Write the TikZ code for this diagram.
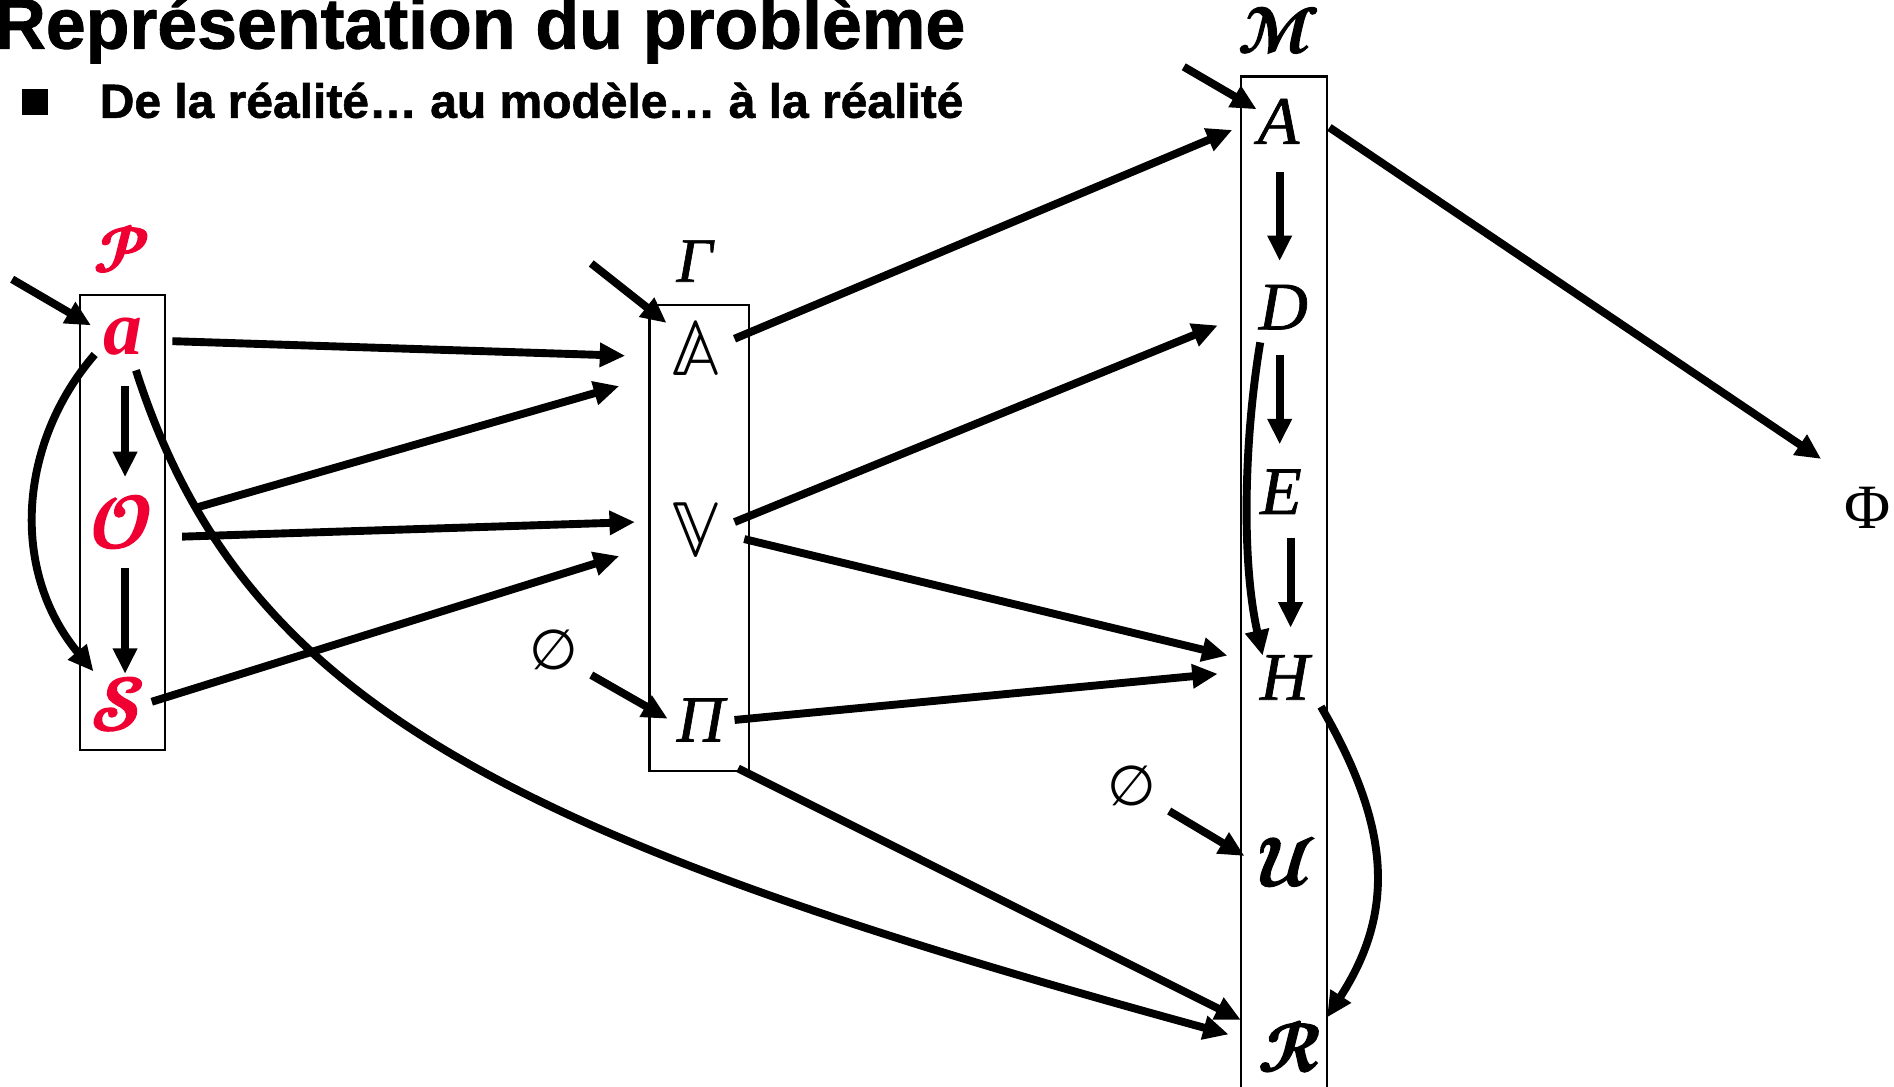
\documentclass[tikz,border=0pt]{standalone}
\usepackage{fontspec}
\usepackage{unicode-math}
\setmathfont{Latin Modern Math}
\newfontfamily\arialfont{Liberation Sans}[BoldFeatures={FakeBold=1.2}]
\newfontfamily\timesfont{Liberation Serif}
\newfontfamily\timesheavy{Liberation Serif}[ItalicFeatures={FakeBold=1}]
\newfontfamily\dvsans{DejaVu Sans}
\newfontfamily\scrfont{Latin Modern Math}[FakeBold=2.5]
\usetikzlibrary{arrows.meta,calc}
\definecolor{pred}{RGB}{240,0,50}
\tikzset{
  conn/.style={line width=6.5pt,-{Triangle[length=21pt,width=19pt]}},
  box/.style={draw,line width=1.8pt,inner sep=0pt},
  lett/.style={inner sep=0pt,font=\fontsize{#1}{#1}\selectfont},
  lett/.default=52,
  redlett/.style={lett=#1,text=pred},
  redlett/.default=60,
}
\begin{document}
\begin{tikzpicture}[x=1pt,y=-1pt]
\useasboundingbox (0,0) rectangle (1560,895);
% titles
\node[anchor=base west,inner sep=0pt,font=\arialfont\bfseries\fontsize{59}{60}\selectfont] (title) at (-5,40) {Représentation du problème};
\node[fill=black,minimum size=21pt,inner sep=0pt] (bullet) at (29,84) {};
\node[anchor=base west,inner sep=0pt,font=\arialfont\bfseries\fontsize{39.5}{40}\selectfont] (sub) at (82,97) {De la réalité… au modèle… à la réalité};
% boxes
\node[box,minimum width=70pt,minimum height=375pt] (Pbox) at (101,430.5) {};
\node[box,minimum width=82pt,minimum height=384pt] (Gbox) at (576,443) {};
\node[box,minimum width=71pt,minimum height=857pt] (Mbox) at (1057.5,491.5) {};
% P column
\node[redlett=52] (Plab) at (100,205) {\scrfont\symbol{"1D4DF}};
\node[redlett=64] (a) at (101,277) {\timesfont\bfseries\itshape a};
\node[redlett] (O) at (100,430) {\scrfont\symbol{"1D4DE}};
\node[redlett] (S) at (97,580) {\scrfont\symbol{"1D4E2}};
% Gamma column
\node[lett=52] (Glab) at (572,215) {\timesheavy\itshape Γ};
\node[lett=66] (bbA) at (573,287) {$\mathbb{A}$};
\node[lett=66] (V) at (573,437) {$\mathbb{V}$};
\node[lett=54] (Pi) at (577,593) {\timesheavy\itshape Π};
\node[lett=46] (e1) at (456,535) {\dvsans ∅};
% M column
\node[lett=52] (Mlab) at (1053,25) {\scrfont\symbol{"1D4DC}};
\node[lett=56] (mA) at (1053,100) {\timesheavy\itshape A};
\node[lett=56] (D) at (1057,253) {\timesheavy\itshape D};
\node[lett=56] (E) at (1055,405) {\timesheavy\itshape E};
\node[lett=56] (H) at (1058,558) {\timesheavy\itshape H};
\node[lett=56] (U) at (1060,710) {\scrfont\symbol{"1D4E4}};
\node[lett=56] (R) at (1062,862) {\scrfont\symbol{"1D4E1}};
\node[lett=46] (e2) at (932,647) {\dvsans ∅};
\node[lett=52] (Phi) at (1538,418) {\timesfont Φ};
% free ends
\coordinate (inP) at (10,230);
\coordinate (inG) at (487,217);
\coordinate (inM) at (975,55);
% P connectors
\draw[conn] (inP) -- ($(a)+(-26,-9)$);
\draw[conn] ($(a)+(2,41)$) -- ($(O)+(3,-37)$);
\draw[conn] ($(O)+(3,38)$) -- ($(S)+(6,-25)$);
\draw[conn] ($(a)+(-23,15)$) .. controls ($(a)+(-86,88)$) and ($(S)+(-89,-110)$) .. ($(S)+(-20,-27)$);
\draw[conn] ($(a)+(11,28)$) .. controls ($(a)+(99,303)$) and ($(R)+(-642,-172)$) .. ($(R)+(-50,-10)$);
\draw[conn] ($(a)+(41,4)$) -- ($(bbA)+(-58,6)$);
\draw[conn] ($(O)+(62,-12)$) -- ($(bbA)+(-63,31)$);
\draw[conn] ($(O)+(50,12)$) -- ($(V)+(-50,-7)$);
\draw[conn] ($(S)+(28,-2)$) -- ($(V)+(-63,21)$);
% Gamma connectors
\draw[conn] (inG) -- ($(bbA)+(-24,-21)$);
\draw[conn] ($(e1)+(31,21)$) -- ($(Pi)+(-27,-1)$);
\draw[conn] ($(bbA)+(32,-8)$) -- ($(mA)+(-38,7)$);
\draw[conn] ($(V)+(32,-7)$) -- ($(D)+(-54,15)$);
\draw[conn] ($(V)+(40,7)$) -- ($(H)+(-47,-18)$);
\draw[conn] ($(Pi)+(28,0)$) -- ($(H)+(-55,-3)$);
\draw[conn] ($(Gbox.south east)+(-10,-3)$) -- ($(R)+(-40,-22)$);
% M connectors
\draw[conn] (inM) -- ($(mA)+(-18,-10)$);
\draw[conn] ($(mA)+(1,42)$) -- ($(D)+(-3,-38)$);
\draw[conn] ($(D)+(-3,39)$) -- ($(E)+(-1,-39)$);
\draw[conn] ($(E)+(8,38)$) -- ($(H)+(5,-41)$);
\draw[conn] ($(D)+(-19,29)$) .. controls ($(D)+(-32,107)$) and ($(H)+(-36,-98)$) .. ($(H)+(-18,-18)$);
\draw[conn] ($(e2)+(31,21)$) -- ($(U)+(-35,-5)$);
\draw[conn] ($(H)+(30,24)$) .. controls ($(H)+(87,122)$) and ($(R)+(88,-112)$) .. ($(R)+(31,-24)$);
\draw[conn] ($(mA)+(42,5)$) -- ($(Phi)+(-38,-40)$);
\end{tikzpicture}
\end{document}
